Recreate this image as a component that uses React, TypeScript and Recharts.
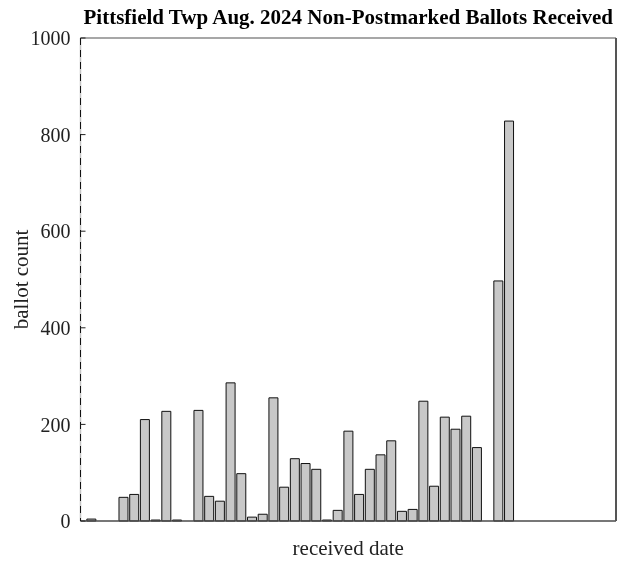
import React from 'react';
import { BarChart, Bar, XAxis, YAxis, ReferenceLine } from 'recharts';

const dates = [
  'Jun 28', 'Jun 29', 'Jun 30',
  'Jul 1', 'Jul 2', 'Jul 3', 'Jul 4', 'Jul 5', 'Jul 6', 'Jul 7', 'Jul 8', 'Jul 9', 'Jul 10',
  'Jul 11', 'Jul 12', 'Jul 13', 'Jul 14', 'Jul 15', 'Jul 16', 'Jul 17', 'Jul 18', 'Jul 19', 'Jul 20',
  'Jul 21', 'Jul 22', 'Jul 23', 'Jul 24', 'Jul 25', 'Jul 26', 'Jul 27', 'Jul 28', 'Jul 29', 'Jul 30', 'Jul 31',
  'Aug 1', 'Aug 2', 'Aug 3', 'Aug 4', 'Aug 5', 'Aug 6',
];
const ballots = [
  4, 0, 0, 49, 55, 210, 2, 227, 2, 0,
  229, 51, 41, 286, 98, 8, 14, 255, 70, 129,
  119, 107, 2, 22, 186, 55, 107, 137, 166, 20,
  24, 248, 72, 215, 190, 217, 152, 0, 497, 828,
];
const yTicks = [0, 200, 400, 600, 800, 1000];
const xDomain = [-1, 49];
const yDomain = [0, 1000];

const title = 'Pittsfield Twp Aug. 2024 Non-Postmarked Ballots Received';
const xLabel = 'received date';
const yLabel = 'ballot count';

const data = ballots.map((v, i) => ({ day: i, date: dates[i], count: v }));

const FONT = '"Liberation Serif", "Times New Roman", serif';

export default function App() {
  return (
    <div style={{ position: 'fixed', left: 8, top: 8, width: 610, height: 557 }}>
      <div
        style={{
          position: 'absolute',
          left: 72.5,
          width: 535.5,
          top: -2,
          textAlign: 'center',
          fontFamily: FONT,
          fontWeight: 'bold',
          fontSize: 21,
          lineHeight: '22px',
          color: '#000',
          whiteSpace: 'nowrap',
          zIndex: 1,
        }}
      >
        {title}
      </div>
      <BarChart
        width={610}
        height={557}
        data={data}
        margin={{ top: 29, right: 1, bottom: 8, left: 0 }}
      >
        <ReferenceLine x={-1} stroke="#c4c4c4" strokeWidth={1.5} />
        <XAxis
          dataKey="day"
          type="number"
          domain={xDomain}
          allowDataOverflow
          height={36}
          tick={false}
          tickLine={false}
          axisLine={{ stroke: '#4a4a4a', strokeWidth: 1.5 }}
          label={{
            content: (props: any) => {
              const vb = props.viewBox || {};
              return (
                <text
                  x={vb.x + vb.width / 2}
                  y={vb.y + 34}
                  textAnchor="middle"
                  fontFamily={FONT}
                  fontSize={21}
                  fill="#222"
                >
                  {xLabel}
                </text>
              );
            },
          }}
        />
        <XAxis
          xAxisId="top"
          orientation="top"
          dataKey="day"
          type="number"
          domain={xDomain}
          allowDataOverflow
          height={1}
          tick={false}
          tickLine={false}
          axisLine={{ stroke: '#8a8a8a', strokeWidth: 1.5 }}
        />
        <YAxis
          type="number"
          domain={yDomain}
          ticks={yTicks}
          width={72.5}
          tickSize={-5}
          tickMargin={15}
          tickLine={{ stroke: '#222' }}
          tick={{ fill: '#222', fontSize: 20, fontFamily: FONT }}
          axisLine={{ stroke: '#111', strokeDasharray: '7 5' }}
          label={{
            content: (props: any) => {
              const vb = props.viewBox || {};
              const cx = vb.x + 20;
              const cy = vb.y + vb.height / 2;
              return (
                <text
                  x={cx}
                  y={cy}
                  transform={`rotate(-90, ${cx}, ${cy})`}
                  textAnchor="middle"
                  fontFamily={FONT}
                  fontSize={21}
                  fill="#222"
                >
                  {yLabel}
                </text>
              );
            },
          }}
        />
        <YAxis
          yAxisId="right"
          orientation="right"
          type="number"
          domain={yDomain}
          ticks={yTicks}
          width={1}
          tickSize={-5}
          tick={false}
          tickLine={{ stroke: '#333' }}
          axisLine={{ stroke: '#555', strokeWidth: 2 }}
        />
        <Bar
          dataKey="count"
          fill="#c8c8c8"
          stroke="#111"
          strokeWidth={1}
          barSize={9}
          isAnimationActive={false}
        />
      </BarChart>
    </div>
  );
}
